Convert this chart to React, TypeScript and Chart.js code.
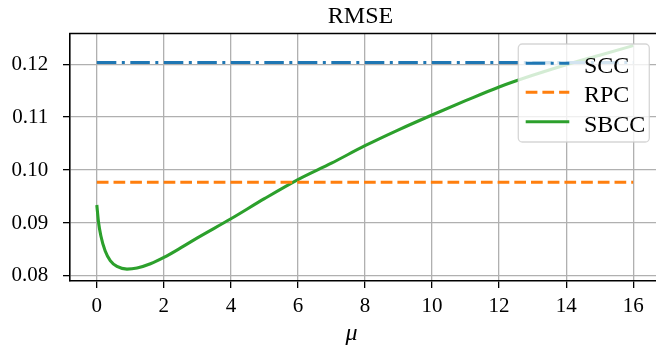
import React, { useEffect, useRef } from 'react';
import { Chart, registerables } from 'chart.js';

Chart.register(...registerables);

// ---- data ----
const muValues = [0, 0.05, 0.12, 0.25, 0.4, 0.6, 0.9, 1.2, 1.6, 2, 2.5, 3, 4, 5, 6, 7, 8, 9, 10, 11, 12, 13, 14, 15, 16];
const sbccValues = [0.0934, 0.0902, 0.0876, 0.0847, 0.0829, 0.0818, 0.0813, 0.0815, 0.0823, 0.0835, 0.0853, 0.0872, 0.0908, 0.0946, 0.0982, 0.1013, 0.1046, 0.1076, 0.1104, 0.1131, 0.1157, 0.1179, 0.1199, 0.1217, 0.1235];
const sccMu = [0, 16];
const sccValues = [0.1203, 0.1203];
const rpcMu = [0, 16];
const rpcValues = [0.0977, 0.0977];
const seriesLabels = ['SCC', 'RPC', 'SBCC'];
const xTicks = [0, 2, 4, 6, 8, 10, 12, 14, 16];
const yTicks = [0.08, 0.09, 0.1, 0.11, 0.12];
const titleText = 'RMSE';
const xLabelText = 'μ';

const FONT = '"Liberation Serif", "Times New Roman", serif';

const decorPlugin = {
  id: 'decor',
  afterDraw(chart: any) {
    const ctx = chart.ctx;
    const area = chart.chartArea;
    ctx.save();
    // top spine
    ctx.strokeStyle = '#000';
    ctx.lineWidth = 1.6;
    ctx.beginPath();
    ctx.moveTo(area.left - 0.8, area.top);
    ctx.lineTo(area.right, area.top);
    ctx.stroke();

    // title
    ctx.fillStyle = '#000';
    ctx.font = `24px ${FONT}`;
    ctx.textAlign = 'center';
    ctx.textBaseline = 'alphabetic';
    ctx.fillText(titleText, 360.5, 22.7);

    // x label
    ctx.font = `italic 24px ${FONT}`;
    ctx.fillText(xLabelText, 351.5, 339.5);

    // legend
    const lx = 518.3, ly = 44, lw = 131, lh = 98;
    ctx.beginPath();
    (ctx as any).roundRect(lx, ly, lw, lh, 4);
    ctx.fillStyle = 'rgba(255,255,255,0.8)';
    ctx.fill();
    ctx.strokeStyle = 'rgba(204,204,204,0.8)';
    ctx.lineWidth = 1.3;
    ctx.stroke();
    const rows = [63.3, 92.3, 121.7];
    chart.data.datasets.forEach((ds: any, i: number) => {
      const y = rows[i];
      ctx.beginPath();
      ctx.setLineDash(ds.borderDash || []);
      ctx.lineDashOffset = 0;
      ctx.strokeStyle = ds.borderColor;
      ctx.lineWidth = ds.borderWidth;
      ctx.lineCap = 'butt';
      ctx.moveTo(525.7, y);
      ctx.lineTo(569.3, y);
      ctx.stroke();
      ctx.setLineDash([]);
      ctx.fillStyle = '#000';
      ctx.font = `24px ${FONT}`;
      ctx.textAlign = 'left';
      ctx.textBaseline = 'alphabetic';
      ctx.fillText(ds.label, 584, y + 9.8);
    });
    ctx.restore();
  },
};

export default function App() {
  const ref = useRef<HTMLCanvasElement | null>(null);
  useEffect(() => {
    if (!ref.current) return;
    const chart = new Chart(ref.current, {
      type: 'line',
      data: {
        datasets: [
          {
            label: seriesLabels[0],
            data: sccMu.map((x, i) => ({ x, y: sccValues[i] })),
            borderColor: '#1f77b4',
            borderWidth: 3.1,
            borderDash: [19.5, 5.5, 3, 5.5],
            pointRadius: 0,
            fill: false,
          },
          {
            label: seriesLabels[1],
            data: rpcMu.map((x, i) => ({ x, y: rpcValues[i] })),
            borderColor: '#ff7f0e',
            borderWidth: 3.1,
            borderDash: [11.7, 5],
            pointRadius: 0,
            fill: false,
          },
          {
            label: seriesLabels[2],
            data: muValues.map((x, i) => ({ x, y: sbccValues[i] })),
            borderColor: '#2ca02c',
            borderWidth: 3.1,
            cubicInterpolationMode: 'monotone',
            pointRadius: 0,
            fill: false,
          },
        ] as any,
      },
      options: {
        animation: false,
        responsive: false,
        devicePixelRatio: 1,
        layout: { padding: { top: 33.5, left: 0, right: 0, bottom: 0 } },
        plugins: {
          legend: { display: false },
          title: { display: false },
          tooltip: { enabled: false },
        },
        scales: {
          x: {
            type: 'linear',
            min: -0.8,
            max: 16.68,
            afterBuildTicks: (s: any) => {
              s.ticks = xTicks.map((v) => ({ value: v }));
            },
            afterFit: (s: any) => {
              s.height = 66;
            },
            ticks: {
              autoSkip: false,
              maxRotation: 0,
              padding: 6,
              color: '#000',
              font: { family: FONT, size: 21 },
              callback: (v: any) => String(v),
            },
            grid: {
              color: '#b0b0b0',
              lineWidth: 1.3,
              tickLength: 7,
              tickColor: '#000',
              tickWidth: 1.3,
            },
            border: { color: '#000', width: 1.6 },
          },
          y: {
            type: 'linear',
            min: 0.07905,
            max: 0.12579,
            afterBuildTicks: (s: any) => {
              s.ticks = yTicks.map((v) => ({ value: v }));
            },
            afterFit: (s: any) => {
              s.width = 70;
            },
            ticks: {
              padding: 14.7,
              color: '#000',
              font: { family: FONT, size: 21 },
              callback: (v: any) => Number(v).toFixed(2),
            },
            grid: {
              color: '#b0b0b0',
              lineWidth: 1.3,
              tickLength: 7,
              tickColor: '#000',
              tickWidth: 1.3,
            },
            border: { color: '#000', width: 1.6 },
          },
        },
      } as any,
      plugins: [decorPlugin],
    });
    return () => chart.destroy();
  }, []);
  return (
    <div style={{ position: 'absolute', left: 0, top: 0, width: 656, height: 347, background: '#fff', overflow: 'hidden' }}>
      <canvas ref={ref} width={656} height={347} style={{ display: 'block' }} />
    </div>
  );
}
